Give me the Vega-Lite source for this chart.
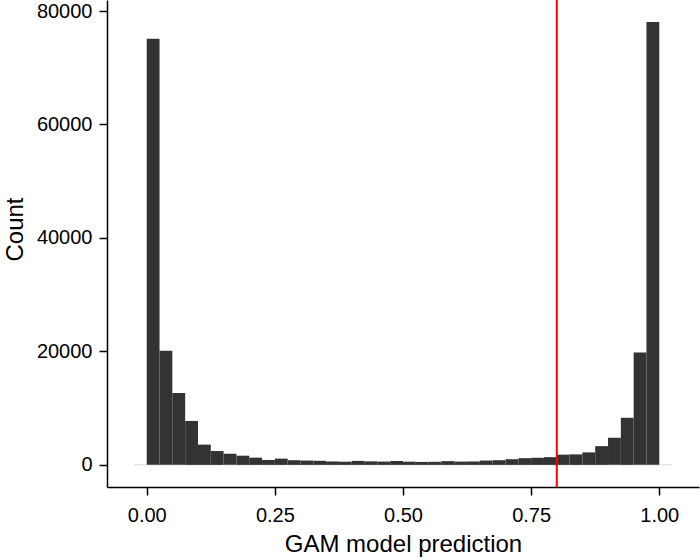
{
  "$schema": "https://vega.github.io/schema/vega-lite/v6.json",
  "width": 592,
  "height": 487,
  "autosize": {"type": "none"},
  "padding": {"left": 107, "top": 0, "right": 1, "bottom": 72},
  "background": "white",
  "config": {
    "view": {"stroke": null},
    "font": "Liberation Sans",
    "axis": {
      "grid": false,
      "domainColor": "black",
      "domainWidth": 1.5,
      "tickColor": "black",
      "tickWidth": 1.5,
      "tickSize": 8,
      "labelColor": "black",
      "labelFont": "Liberation Sans",
      "labelFontSize": 20,
      "titleFont": "Liberation Sans",
      "titleFontSize": 24,
      "titleFontWeight": "normal",
      "titleColor": "black"
    }
  },
  "datasets": {
    "bins": [
      {"bin_start": 0.000, "bin_end": 0.025, "count": 75100},
      {"bin_start": 0.025, "bin_end": 0.050, "count": 20100},
      {"bin_start": 0.050, "bin_end": 0.075, "count": 12660},
      {"bin_start": 0.075, "bin_end": 0.100, "count": 7740},
      {"bin_start": 0.100, "bin_end": 0.125, "count": 3570},
      {"bin_start": 0.125, "bin_end": 0.150, "count": 2440},
      {"bin_start": 0.150, "bin_end": 0.175, "count": 1980},
      {"bin_start": 0.175, "bin_end": 0.200, "count": 1620},
      {"bin_start": 0.200, "bin_end": 0.225, "count": 1270},
      {"bin_start": 0.225, "bin_end": 0.250, "count": 870},
      {"bin_start": 0.250, "bin_end": 0.275, "count": 1100},
      {"bin_start": 0.275, "bin_end": 0.300, "count": 820},
      {"bin_start": 0.300, "bin_end": 0.325, "count": 760},
      {"bin_start": 0.325, "bin_end": 0.350, "count": 720},
      {"bin_start": 0.350, "bin_end": 0.375, "count": 600},
      {"bin_start": 0.375, "bin_end": 0.400, "count": 560},
      {"bin_start": 0.400, "bin_end": 0.425, "count": 700},
      {"bin_start": 0.425, "bin_end": 0.450, "count": 620},
      {"bin_start": 0.450, "bin_end": 0.475, "count": 580},
      {"bin_start": 0.475, "bin_end": 0.500, "count": 680},
      {"bin_start": 0.500, "bin_end": 0.525, "count": 560},
      {"bin_start": 0.525, "bin_end": 0.550, "count": 520},
      {"bin_start": 0.550, "bin_end": 0.575, "count": 540},
      {"bin_start": 0.575, "bin_end": 0.600, "count": 660},
      {"bin_start": 0.600, "bin_end": 0.625, "count": 580},
      {"bin_start": 0.625, "bin_end": 0.650, "count": 600},
      {"bin_start": 0.650, "bin_end": 0.675, "count": 760},
      {"bin_start": 0.675, "bin_end": 0.700, "count": 820},
      {"bin_start": 0.700, "bin_end": 0.725, "count": 1000},
      {"bin_start": 0.725, "bin_end": 0.750, "count": 1180},
      {"bin_start": 0.750, "bin_end": 0.775, "count": 1250},
      {"bin_start": 0.775, "bin_end": 0.800, "count": 1360},
      {"bin_start": 0.800, "bin_end": 0.825, "count": 1800},
      {"bin_start": 0.825, "bin_end": 0.850, "count": 1850},
      {"bin_start": 0.850, "bin_end": 0.875, "count": 2200},
      {"bin_start": 0.875, "bin_end": 0.900, "count": 3300},
      {"bin_start": 0.900, "bin_end": 0.925, "count": 4800},
      {"bin_start": 0.925, "bin_end": 0.950, "count": 8300},
      {"bin_start": 0.950, "bin_end": 0.975, "count": 19800},
      {"bin_start": 0.975, "bin_end": 1.000, "count": 78050}
    ],
    "baseline": [{"from": -0.025, "to": 1.025, "count": 0}],
    "cutoff": [{"threshold": 0.8}]
  },
  "layer": [
    {
      "data": {"name": "baseline"},
      "mark": {"type": "rule", "color": "#d9d9d9", "strokeWidth": 1},
      "encoding": {
        "x": {"field": "from", "type": "quantitative",
              "scale": {"domain": [-0.0775, 1.0775], "nice": false, "zero": false},
              "axis": {"title": "GAM model prediction", "values": [0, 0.25, 0.5, 0.75, 1], "format": ".2f", "labelPadding": 10, "titlePadding": 7}},
        "x2": {"field": "to"},
        "y": {"field": "count", "type": "quantitative",
              "scale": {"domain": [-3900, 81940], "nice": false, "zero": false},
              "axis": {"title": "Count", "values": [0, 20000, 40000, 60000, 80000], "format": "d", "labelPadding": 7, "titlePadding": 9, "titleY": 229}}
      }
    },
    {
      "data": {"name": "bins"},
      "mark": {"type": "bar", "color": "#333333", "binSpacing": 0, "stroke": null},
      "encoding": {
        "x": {"field": "bin_start", "type": "quantitative"},
        "x2": {"field": "bin_end"},
        "y": {"field": "count", "type": "quantitative"},
        "y2": {"datum": 0}
      }
    },
    {
      "data": {"name": "cutoff"},
      "mark": {"type": "rule", "color": "#ff0000", "strokeWidth": 2},
      "encoding": {
        "x": {"field": "threshold", "type": "quantitative"}
      }
    }
  ]
}
